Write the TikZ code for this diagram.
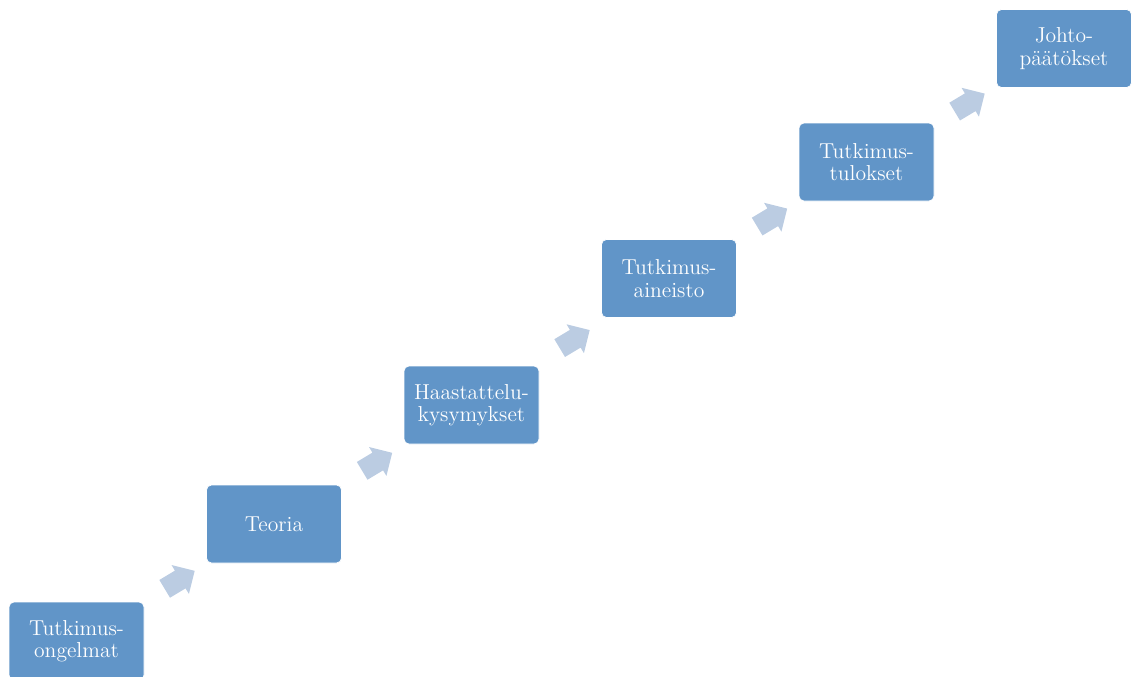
\documentclass[tikz,border=0pt]{standalone}
\usepackage{xcolor}
\usepackage{tikz}
\usetikzlibrary{positioning,calc,shapes.arrows}
\definecolor{stageblue}{HTML}{6195C8}
\definecolor{paleblue}{HTML}{BBCCE2}
\tikzset{
    every picture/.style={line cap=round,line join=round},
    stagebox/.style={draw=white,fill=stageblue,line width=0.4pt,rounded corners=1mm,
      minimum width=2.7cm,minimum height=1.56cm,inner sep=2pt,outer sep=0pt,
      text=white,align=center,font=\fontsize{12.3}{12.8}\selectfont},
    stagearrow/.style={single arrow,draw=none,fill=paleblue,inner xsep=0pt,inner ysep=0.2cm,
      minimum height=0.7cm,minimum width=0.66cm,
      single arrow head extend=0.13cm,single arrow head indent=0pt,rotate=31}
}
\begin{document}
\begin{tikzpicture}
    \useasboundingbox (0,0) rectangle (22.66,-13.54);
    \node[stagebox] (ongelmat) at (1.53,-12.82) {Tutkimus-\\ongelmat};
    \node[stagebox,above right=0.78cm and 1.25cm of ongelmat] (teoria) {Teoria};
    \node[stagebox,above right=0.82cm and 1.25cm of teoria] (kysymykset) {Haastattelu-\\kysymykset};
    \node[stagebox,above right=0.97cm and 1.25cm of kysymykset] (aineisto) {Tutkimus-\\aineisto};
    \node[stagebox,above right=0.77cm and 1.25cm of aineisto] (tulokset) {Tutkimus-\\tulokset};
    \node[stagebox,above right=0.71cm and 1.25cm of tulokset] (paatokset) {Johto-\\päätökset};
    \node[stagearrow] (a1) at ($(ongelmat)!0.5!(teoria)$) {};
    \node[stagearrow] (a2) at ($(teoria)!0.5!(kysymykset)$) {};
    \node[stagearrow] (a3) at ($(kysymykset)!0.5!(aineisto)$) {};
    \node[stagearrow] (a4) at ($(aineisto)!0.5!(tulokset)$) {};
    \node[stagearrow] (a5) at ($(tulokset)!0.5!(paatokset)$) {};
\end{tikzpicture}
\end{document}
